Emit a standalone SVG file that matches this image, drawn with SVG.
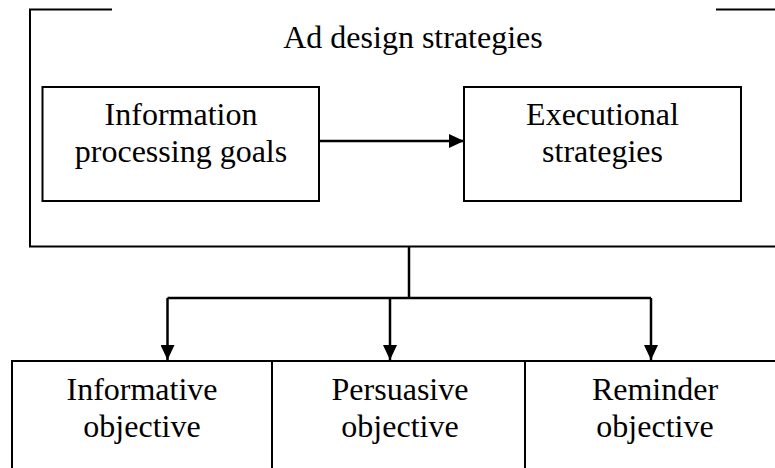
<svg xmlns="http://www.w3.org/2000/svg" width="775" height="468" viewBox="0 0 775 468">
<style>
  .frame { fill: none; stroke: #000; stroke-width: 2; }
  .box { fill: #fff; stroke: #000; stroke-width: 2; }
  .conn { fill: none; stroke: #000; stroke-width: 2.5; }
  text { font-family: "Liberation Serif", "Times New Roman", serif; font-size: 32px; fill: #000; text-anchor: middle; }
</style>
<defs>
  <marker id="arr" viewBox="0 0 15 14" refX="15" refY="7" markerWidth="15" markerHeight="14" markerUnits="userSpaceOnUse" orient="auto">
    <path d="M0,0 L15,7 L0,14 Z" fill="#000"/>
  </marker>
</defs>
<g id="ad-design-strategies">
  <path class="frame" d="M112,9.5 H30 V246.5 H775"/>
  <path class="frame" d="M716,9.5 H775"/>
  <text x="413" y="48">Ad design strategies</text>
</g>
<g id="info-goals">
  <rect class="box" x="42.5" y="87" width="276.5" height="114"/>
  <text x="181" y="125">Information</text>
  <text x="181" y="161.5">processing goals</text>
</g>
<g id="exec-strategies">
  <rect class="box" x="464" y="87" width="277" height="114"/>
  <text x="602.5" y="125">Executional</text>
  <text x="602.5" y="161.5">strategies</text>
</g>
<g id="informative">
  <path class="box" d="M12,469 V361 H272 V469"/>
  <text x="142" y="399.5">Informative</text>
  <text x="142" y="436.5">objective</text>
</g>
<g id="persuasive">
  <path class="box" d="M272,469 V361 H525 V469"/>
  <text x="400" y="399.5">Persuasive</text>
  <text x="400" y="436.5">objective</text>
</g>
<g id="reminder">
  <path class="box" d="M525,469 V361 H780"/>
  <text x="655" y="399.5">Reminder</text>
  <text x="655" y="436.5">objective</text>
</g>
<g id="connectors">
  <line class="conn" x1="319" y1="141" x2="464" y2="141" marker-end="url(#arr)"/>
  <line class="conn" x1="409" y1="246.5" x2="409" y2="298"/>
  <line class="conn" x1="167.5" y1="298" x2="651" y2="298"/>
  <line class="conn" x1="167.5" y1="298" x2="167.5" y2="360" marker-end="url(#arr)"/>
  <line class="conn" x1="390" y1="298" x2="390" y2="360" marker-end="url(#arr)"/>
  <line class="conn" x1="651" y1="298" x2="651" y2="360" marker-end="url(#arr)"/>
</g>
</svg>
